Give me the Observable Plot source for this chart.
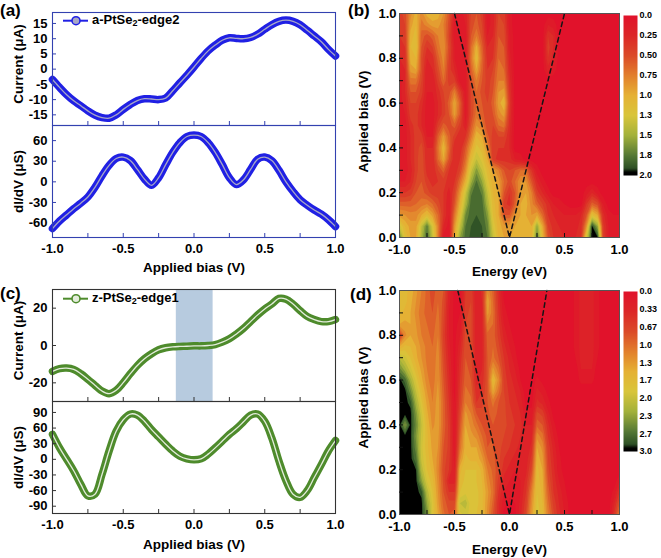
<!DOCTYPE html>
<html><head><meta charset="utf-8">
<script src="https://cdn.jsdelivr.net/npm/d3@7"></script>
<script src="https://cdn.jsdelivr.net/npm/@observablehq/plot@0.6"></script>
<style>
body{margin:0;background:#fff;}
#fig{position:relative;width:661px;height:558px;overflow:hidden;background:#fff;}
</style></head><body><div id="fig"></div>
<script>
// ---------- data ----------
const biasV = [-1,-0.95,-0.9,-0.85,-0.8,-0.75,-0.7,-0.65,-0.6,-0.55,-0.5,-0.45,-0.4,-0.35,-0.3,-0.25,-0.2,-0.15,-0.1,-0.05,0,0.05,0.1,0.15,0.2,0.25,0.3,0.35,0.4,0.45,0.5,0.55,0.6,0.65,0.7,0.75,0.8,0.85,0.9,0.95,1];
const aCurrent = [-3.4,-6.0,-8.4,-10.4,-12.0,-13.7,-15.1,-15.9,-16.1,-15.0,-13.2,-11.6,-10.3,-9.7,-9.8,-10.0,-9.5,-7.1,-4.5,-2.0,0.7,3.5,6.0,7.9,9.5,10.3,10.1,10.0,10.4,11.5,13.1,14.6,15.7,16.1,15.7,14.6,12.8,10.9,9.0,6.5,4.3];
const aDidv = [-68,-57,-48,-39,-31,-22,-8,9,24,34,36,31,18,4,-5,6,25,43,57,66,68,66,57,43,25,6,-4,3,18,33,36,31,17,0,-14,-26,-34,-41,-47,-55,-65];
const cCurrent = [-13.9,-12.4,-12.1,-12.8,-15.1,-18.1,-21.3,-24.4,-25.8,-24.0,-19.9,-15.1,-10.7,-7.1,-4.4,-2.3,-1.2,-0.7,-0.5,-0.4,-0.2,-0.2,0,0.5,1.8,3.6,6.2,9.2,12.8,16.4,19.6,22.2,25.2,24.8,22.2,18.7,15.6,13.9,12.8,12.8,13.9];
const cDidv = [48,22,0,-22,-48,-70,-67,-29,16,54,76,87,85,73,57,43,29,16,6,1,-1,1,10,22,35,48,59,72,85,87,73,41,-3,-41,-67,-73,-60,-35,-10,16,36];
const shadeBias = [-0.125, 0.135];
const seriesA = ["a-PtSe", "2", "-edge2"];
const seriesC = ["z-PtSe", "2", "-edge1"];

const energyGrid = [-1,-0.95,-0.9,-0.85,-0.8,-0.75,-0.7,-0.65,-0.6,-0.55,-0.5,-0.45,-0.4,-0.35,-0.3,-0.25,-0.2,-0.15,-0.1,-0.05,0,0.05,0.1,0.15,0.2,0.25,0.3,0.35,0.4,0.45,0.5,0.55,0.6,0.65,0.7,0.75,0.8,0.85,0.9,0.95,1];
const biasGrid = [1,0.95,0.9,0.85,0.8,0.75,0.7,0.65,0.6,0.55,0.5,0.45,0.4,0.35,0.3,0.25,0.2,0.15,0.1,0.05,0];

// map (b): rows from bias 1.0 (top) to 0.0 (bottom), columns energy -1 .. 1
const mapB = [
[0.45,0.55,0.85,1.05,0.85,1.05,1.1,1.05,0.9,0.6, 0.25,0.15,0.25,0.5,0.6,0.45,0.15,0.25,0.5,0.45, 0.15,0.05,0.05,0.05,0.05,0.05,0.05,0.05,0.05,0.05, 0.05,0.05,0.05,0.05,0.05,0.05,0.05,0.05,0.05,0.05, 0.05],
[0.4,0.5,0.95,1.1,0.75,0.85,0.95,0.95,0.8,0.55, 0.15,0.1,0.2,0.55,0.65,0.5,0.15,0.25,0.55,0.5, 0.15,0.05,0.05,0.05,0.05,0.05,0.05,0.2,0.15,0.05, 0.05,0.05,0.05,0.05,0.05,0.05,0.05,0.05,0.05,0.05, 0.05],
[0.4,0.45,1.05,1.15,0.65,0.55,0.65,0.8,0.85,0.5, 0.15,0.1,0.15,0.6,0.8,0.55,0.2,0.3,0.6,0.55, 0.2,0.05,0.05,0.05,0.05,0.05,0.05,0.4,0.3,0.05, 0.05,0.05,0.05,0.05,0.05,0.05,0.05,0.05,0.05,0.05, 0.05],
[0.35,0.4,1.1,1.2,0.6,0.4,0.5,0.75,0.9,0.55, 0.2,0.1,0.15,0.7,1.05,0.65,0.3,0.35,0.65,0.6, 0.2,0.05,0.05,0.05,0.05,0.05,0.05,0.45,0.3,0.05, 0.05,0.05,0.05,0.05,0.05,0.05,0.05,0.05,0.05,0.05, 0.05],
[0.3,0.35,1.05,1.1,0.55,0.3,0.35,0.65,0.85,0.5, 0.2,0.1,0.15,0.75,1.15,0.7,0.35,0.4,0.7,0.65, 0.25,0.05,0.05,0.05,0.05,0.05,0.05,0.4,0.25,0.05, 0.05,0.05,0.05,0.05,0.05,0.05,0.05,0.05,0.05,0.05, 0.05],
[0.2,0.3,0.95,1.0,0.55,0.2,0.3,0.55,0.8,0.45, 0.3,0.1,0.15,0.65,1.0,0.65,0.4,0.5,0.75,0.7, 0.3,0.05,0.05,0.05,0.05,0.05,0.05,0.25,0.15,0.05, 0.05,0.05,0.05,0.05,0.05,0.05,0.05,0.05,0.05,0.05, 0.05],
[0.15,0.3,0.75,0.75,0.5,0.2,0.2,0.45,0.7,0.45, 0.45,0.15,0.15,0.55,0.8,0.6,0.45,0.55,0.8,0.8, 0.35,0.05,0.05,0.05,0.05,0.05,0.05,0.05,0.05,0.05, 0.05,0.05,0.05,0.05,0.05,0.05,0.05,0.05,0.05,0.05, 0.05],
[0.15,0.3,0.6,0.6,0.45,0.2,0.2,0.35,0.5,0.55, 0.8,0.45,0.15,0.5,0.7,0.55,0.45,0.6,0.9,0.95, 0.4,0.05,0.05,0.05,0.05,0.05,0.05,0.05,0.05,0.05, 0.05,0.05,0.05,0.05,0.05,0.05,0.05,0.05,0.05,0.05, 0.05],
[0.15,0.25,0.5,0.5,0.35,0.15,0.15,0.3,0.45,0.65, 1.0,0.65,0.15,0.5,0.7,0.6,0.5,0.65,0.95,1.1, 0.45,0.05,0.05,0.05,0.05,0.05,0.05,0.05,0.05,0.05, 0.05,0.05,0.05,0.05,0.05,0.05,0.05,0.05,0.05,0.05, 0.05],
[0.15,0.2,0.45,0.45,0.3,0.15,0.15,0.3,0.45,0.6, 0.95,0.6,0.15,0.5,0.75,0.65,0.5,0.6,0.85,0.95, 0.4,0.05,0.05,0.05,0.05,0.05,0.05,0.05,0.05,0.05, 0.05,0.05,0.05,0.05,0.05,0.05,0.05,0.05,0.05,0.05, 0.05],
[0.15,0.15,0.35,0.45,0.3,0.15,0.15,0.45,0.65,0.55, 0.65,0.45,0.2,0.6,0.9,0.8,0.5,0.5,0.7,0.75, 0.35,0.05,0.05,0.05,0.05,0.05,0.05,0.05,0.05,0.05, 0.05,0.05,0.05,0.05,0.05,0.05,0.05,0.05,0.05,0.05, 0.05],
[0.15,0.15,0.3,0.45,0.45,0.2,0.2,0.65,0.95,0.65, 0.45,0.3,0.4,0.75,1.1,1.0,0.65,0.45,0.5,0.5, 0.3,0.05,0.05,0.05,0.05,0.05,0.05,0.05,0.05,0.05, 0.05,0.05,0.05,0.05,0.05,0.05,0.05,0.05,0.05,0.05, 0.05],
[0.15,0.15,0.3,0.45,0.55,0.3,0.3,0.75,1.1,0.7, 0.3,0.3,0.6,0.95,1.25,1.15,0.85,0.4,0.4,0.4, 0.3,0.05,0.05,0.05,0.05,0.05,0.05,0.05,0.05,0.05, 0.05,0.05,0.05,0.05,0.05,0.05,0.05,0.05,0.05,0.05, 0.05],
[0.15,0.15,0.3,0.45,0.6,0.3,0.3,0.7,1.0,0.6, 0.3,0.4,0.7,1.15,1.4,1.25,1.0,0.45,0.35,0.35, 0.35,0.2,0.15,0.05,0.05,0.05,0.05,0.05,0.05,0.05, 0.05,0.05,0.05,0.05,0.05,0.05,0.05,0.05,0.05,0.05, 0.05],
[0.15,0.15,0.25,0.45,0.6,0.35,0.3,0.5,0.65,0.4, 0.3,0.5,0.85,1.35,1.65,1.4,1.15,0.95,0.8,0.6, 0.5,0.6,0.7,0.7,0.4,0.15,0.05,0.05,0.05,0.05, 0.05,0.05,0.05,0.05,0.05,0.05,0.05,0.05,0.05,0.05, 0.05],
[0.2,0.2,0.3,0.5,0.6,0.45,0.35,0.4,0.45,0.35, 0.4,0.7,1.05,1.55,1.82,1.6,1.25,1.05,0.95,0.7, 0.55,0.7,0.9,0.9,0.6,0.3,0.15,0.05,0.05,0.05, 0.05,0.05,0.05,0.05,0.05,0.05,0.05,0.05,0.05,0.05, 0.05],
[0.4,0.4,0.45,0.6,0.65,0.55,0.45,0.45,0.4,0.25, 0.5,0.9,1.35,1.78,1.87,1.78,1.4,1.1,1.0,0.6, 0.4,0.6,0.95,1.0,0.8,0.45,0.3,0.15,0.05,0.05, 0.05,0.05,0.05,0.05,0.15,0.3,0.15,0.05,0.05,0.05, 0.05],
[0.65,0.65,0.65,0.7,0.75,0.8,0.7,0.55,0.4,0.2, 0.6,1.05,1.5,1.85,1.9,1.85,1.5,1.15,1.0,0.45, 0.35,0.65,1.0,1.05,0.85,0.65,0.5,0.35,0.2,0.15, 0.1,0.05,0.05,0.05,0.4,0.65,0.55,0.2,0.05,0.05, 0.05],
[0.95,0.9,0.85,0.85,1.0,1.15,0.95,0.7,0.4,0.2, 0.75,1.2,1.7,1.88,1.9,1.88,1.65,1.2,1.0,0.6, 0.6,0.9,1.0,1.0,0.9,1.0,0.7,0.4,0.3,0.25, 0.2,0.2,0.2,0.3,0.6,1.2,1.0,0.35,0.15,0.1, 0.1],
[1.35,1.1,0.95,0.95,1.4,1.78,1.3,0.8,0.3,0.15, 0.9,1.4,1.8,1.9,1.9,1.9,1.75,1.3,1.05,0.95, 0.95,1.0,1.1,1.0,1.0,1.6,1.0,0.5,0.35,0.3, 0.25,0.25,0.25,0.35,0.9,1.97,1.6,0.45,0.2,0.15, 0.15],
[1.8,1.2,1.0,1.0,1.5,1.86,1.4,0.8,0.15,0.1, 1.0,1.6,1.85,1.92,1.92,1.92,1.8,1.4,1.1,1.0, 1.0,1.05,1.1,1.0,1.05,1.82,1.1,0.6,0.4,0.35, 0.3,0.3,0.3,0.4,1.3,2.0,1.98,0.5,0.2,0.15, 0.15]
];

// map (d)
const mapD = [
[1.8,1.7,1.6,1.4,1.2,1.0,0.8,1.0,0.9,0.4, 0.1,0.1,0.6,0.7,0.3,0.5,1.3,1.0,0.5,0.1, 0.05,0.05,0.05,0.05,0.05,0.05,0.05,0.05,0.05,0.05, 0.05,0.05,0.2,0.35,0.35,0.35,0.2,0.05,0.05,0.05, 0.05],
[1.8,1.7,1.55,1.35,1.15,1.0,0.85,1.05,0.85,0.35, 0.1,0.1,0.65,0.75,0.3,0.45,1.5,1.05,0.55,0.15, 0.05,0.05,0.05,0.05,0.05,0.05,0.05,0.05,0.05,0.05, 0.05,0.05,0.2,0.35,0.35,0.35,0.2,0.05,0.05,0.05, 0.05],
[1.7,1.6,1.5,1.3,1.1,1.0,0.9,1.1,0.8,0.3, 0.1,0.15,0.7,0.8,0.3,0.4,1.4,1.1,0.6,0.2, 0.1,0.05,0.05,0.05,0.05,0.05,0.05,0.05,0.05,0.05, 0.05,0.05,0.2,0.35,0.35,0.35,0.2,0.05,0.05,0.05, 0.05],
[1.5,1.45,1.5,1.35,1.15,1.05,0.95,1.15,0.75,0.3, 0.1,0.2,0.75,0.8,0.3,0.4,1.2,1.05,0.65,0.3, 0.15,0.05,0.05,0.05,0.05,0.05,0.05,0.05,0.05,0.05, 0.05,0.05,0.2,0.35,0.35,0.35,0.2,0.05,0.05,0.05, 0.05],
[0.6,1.3,1.5,1.4,1.2,1.1,1.0,1.2,0.7,0.3, 0.1,0.3,0.8,0.8,0.3,0.4,1.0,1.0,0.7,0.4, 0.2,0.1,0.05,0.05,0.05,0.05,0.05,0.05,0.05,0.05, 0.05,0.05,0.2,0.35,0.35,0.35,0.2,0.05,0.05,0.05, 0.05],
[1.5,1.7,1.65,1.5,1.3,1.15,1.05,1.25,0.75,0.35, 0.1,0.4,0.85,0.8,0.3,0.4,0.95,1.05,0.8,0.5, 0.3,0.15,0.05,0.05,0.05,0.05,0.05,0.05,0.05,0.05, 0.05,0.05,0.2,0.35,0.35,0.35,0.2,0.05,0.05,0.05, 0.05],
[2.2,2.0,1.8,1.55,1.35,1.15,1.05,1.3,0.8,0.4, 0.1,0.5,0.9,0.8,0.3,0.4,0.9,1.1,0.9,0.6, 0.4,0.2,0.05,0.05,0.05,0.05,0.05,0.05,0.05,0.05, 0.05,0.05,0.15,0.35,0.35,0.35,0.15,0.05,0.05,0.05, 0.05],
[2.6,2.3,2.0,1.7,1.45,1.2,1.1,1.3,0.85,0.45, 0.1,0.55,0.95,0.85,0.35,0.45,0.9,1.4,1.1,0.65, 0.45,0.3,0.1,0.05,0.05,0.05,0.05,0.05,0.05,0.05, 0.05,0.05,0.05,0.3,0.3,0.3,0.05,0.05,0.05,0.05, 0.05],
[3.0,2.8,2.3,1.9,1.55,1.25,1.1,1.35,0.9,0.5, 0.1,0.6,1.0,0.9,0.4,0.5,0.9,1.7,1.3,0.7, 0.5,0.4,0.15,0.05,0.05,0.2,0.1,0.05,0.05,0.05, 0.05,0.05,0.05,0.2,0.2,0.2,0.05,0.05,0.05,0.05, 0.05],
[3.0,3.0,2.6,2.1,1.7,1.35,1.15,1.4,0.95,0.55, 0.1,0.65,1.1,1.0,0.5,0.6,0.9,1.5,1.1,0.75, 0.55,0.45,0.3,0.05,0.05,0.35,0.25,0.1,0.05,0.05, 0.05,0.05,0.05,0.05,0.05,0.05,0.05,0.05,0.05,0.05, 0.05],
[3.0,3.0,2.9,2.3,1.85,1.45,1.2,1.45,1.0,0.6, 0.15,0.7,1.2,1.1,0.6,0.7,0.9,1.1,0.9,0.8, 0.6,0.5,0.4,0.1,0.1,0.5,0.4,0.2,0.05,0.05, 0.05,0.05,0.05,0.05,0.05,0.05,0.05,0.05,0.05,0.05, 0.05],
[3.0,3.0,3.0,2.5,2.0,1.55,1.25,1.45,1.0,0.65, 0.15,0.8,1.4,1.2,0.9,0.8,0.85,1.0,0.85,0.8, 0.65,0.55,0.45,0.2,0.2,0.8,0.7,0.35,0.1,0.05, 0.05,0.05,0.05,0.05,0.05,0.05,0.05,0.05,0.05,0.05, 0.05],
[3.0,2.5,3.0,2.6,2.1,1.65,1.3,1.45,1.0,0.7, 0.15,0.9,1.5,1.3,1.1,0.9,0.8,0.9,0.8,0.8, 0.7,0.6,0.5,0.3,0.3,1.0,0.9,0.5,0.2,0.05, 0.05,0.05,0.05,0.05,0.05,0.05,0.05,0.05,0.05,0.05, 0.05],
[3.0,3.0,3.0,2.5,2.05,1.7,1.4,1.4,0.95,0.7, 0.15,1.0,1.6,1.4,1.3,1.05,0.85,0.9,0.8,0.75, 0.65,0.55,0.45,0.3,0.4,1.3,1.1,0.6,0.3,0.1, 0.05,0.05,0.05,0.05,0.05,0.05,0.05,0.05,0.05,0.05, 0.05],
[3.0,3.0,3.0,2.6,2.0,1.7,1.45,1.35,0.9,0.7, 0.2,1.1,1.6,1.5,1.5,1.2,0.9,0.9,0.8,0.7, 0.6,0.5,0.4,0.3,0.5,1.5,1.3,0.7,0.4,0.15, 0.05,0.05,0.05,0.05,0.05,0.05,0.05,0.05,0.05,0.05, 0.05],
[3.0,3.0,3.0,2.75,2.05,1.75,1.5,1.3,0.85,0.65, 0.25,1.3,1.7,1.6,1.6,1.4,1.05,0.95,0.8,0.6, 0.5,0.4,0.35,0.35,0.65,1.6,1.4,0.75,0.45,0.2, 0.05,0.05,0.05,0.05,0.05,0.05,0.05,0.05,0.05,0.05, 0.05],
[3.0,3.0,3.0,2.95,2.2,1.8,1.6,1.25,0.8,0.6, 0.3,1.6,1.8,1.8,1.8,1.6,1.2,1.0,0.8,0.5, 0.4,0.3,0.3,0.4,0.8,1.7,1.5,0.8,0.5,0.2, 0.1,0.05,0.05,0.05,0.05,0.05,0.05,0.05,0.05,0.05, 0.05],
[3.0,3.0,3.0,3.0,2.45,1.95,1.7,1.3,0.85,0.4, 0.4,1.7,1.85,1.8,1.8,1.65,1.3,1.05,0.7,0.4, 0.3,0.25,0.3,0.5,1.0,1.75,1.55,0.9,0.55,0.3, 0.15,0.05,0.05,0.05,0.05,0.05,0.05,0.05,0.05,0.05, 0.3],
[3.0,3.0,3.0,3.0,2.9,2.2,1.8,1.35,0.9,0.6, 0.6,1.8,1.9,1.85,1.85,1.7,1.4,1.1,0.6,0.3, 0.2,0.2,0.3,0.6,1.2,1.8,1.6,1.0,0.6,0.4, 0.2,0.05,0.05,0.05,0.05,0.05,0.05,0.05,0.05,0.2, 0.6],
[3.0,3.0,3.0,3.0,3.0,2.4,1.9,1.4,1.0,0.8, 0.8,2.1,2.2,1.85,1.85,1.7,1.35,1.0,0.5,0.2, 0.1,0.15,0.35,0.7,1.3,1.85,1.65,1.1,0.7,0.45, 0.25,0.1,0.05,0.05,0.05,0.05,0.05,0.05,0.05,0.4, 0.9],
[3.0,3.0,3.0,3.0,3.0,2.6,1.9,1.5,1.1,0.9, 1.0,1.9,2.0,1.9,1.8,1.7,1.3,0.9,0.5,0.1, 0.05,0.1,0.4,0.8,1.4,1.9,1.7,1.2,0.8,0.5, 0.3,0.1,0.05,0.05,0.05,0.05,0.05,0.05,0.05,0.6, 1.2]
];

const dashB_E = [-0.5, 0, 0.5], dashB_V = [1, 0, 1];
const dashD_E = [-0.47, 0, 0.34], dashD_V = [1, 0, 1];

// ticks and labels
const xTicks = [-1, -0.5, 0, 0.5, 1];
const xTickLabels = ["-1.0", "-0.5", "0.0", "0.5", "1.0"];
const xMinor = [-0.75, -0.5, -0.25, 0, 0.25, 0.5, 0.75];
const aTopTicks = [-15, -10, -5, 0, 5, 10, 15];
const aTopLabels = ["-15", "-10", "-5", "0", "5", "10", "15"];
const aBotTicks = [-60, -30, 0, 30, 60];
const aBotLabels = ["-60", "-30", "0", "30", "60"];
const cTopTicks = [-20, 0, 20];
const cTopLabels = ["-20", "0", "20"];
const cBotTicks = [-90, -60, -30, 0, 30, 60, 90];
const cBotLabels = ["-90", "-60", "-30", "0", "30", "60", "90"];
const mapYTicks = [0, 0.2, 0.4, 0.6, 0.8, 1];
const mapYLabels = ["0.0", "0.2", "0.4", "0.6", "0.8", "1.0"];
const mapYMinor = [0.1, 0.2, 0.3, 0.4, 0.5, 0.6, 0.7, 0.8, 0.9];
const cbBTicks = [0, 0.25, 0.5, 0.75, 1, 1.25, 1.5, 1.75, 2];
const cbBLabels = ["0.0", "0.25", "0.50", "0.75", "1.0", "1.3", "1.5", "1.8", "2.0"];
const cbDTicks = [0, 1/3, 2/3, 1, 4/3, 5/3, 2, 7/3, 8/3, 3];
const cbDLabels = ["0.0", "0.33", "0.67", "1.0", "1.3", "1.7", "2.0", "2.3", "2.7", "3.0"];
const levelsB = [0,0.1,0.2,0.3,0.4,0.5,0.6,0.7,0.8,0.9,1.0,1.1,1.2,1.3,1.4,1.5,1.6,1.7,1.8,1.9,1.96];
const levelsD = [0,0.15,0.3,0.45,0.6,0.75,0.9,1.05,1.2,1.35,1.5,1.65,1.8,1.95,2.1,2.25,2.4,2.55,2.7,2.85,2.95];

// ---------- styling ----------
const FONT = '"Liberation Sans", Arial, Helvetica, sans-serif';
const STYLE = {fontFamily: FONT, fontSize: "13px", fontWeight: "bold", background: "transparent", color: "#000", overflow: "visible"};
const cStops = [0, 0.125, 0.25, 0.375, 0.5, 0.625, 0.75, 0.875, 0.955, 0.98, 1];
const cColors = ["#e1122b","#dc2627","#db4a28","#e27f2c","#e5b134","#d9c63a","#a3b13a","#557935","#2e5025","#000000","#000000"];
const fig = document.getElementById("fig");
function place(el, left, top) {
  el.style.position = "absolute"; el.style.left = left + "px"; el.style.top = top + "px";
  fig.appendChild(el);
}
const fmt = (ticks, labels) => d => labels[ticks.indexOf(d)];

function curvePanel(o) {
  const W = 340, ml = 52, mr = 5;
  const fw = W - ml - mr, fh = o.height - o.mt - o.mb;
  const data = biasV.map((x, i) => ({x, y: o.values[i]}));
  const marks = [];
  if (o.shade) marks.push(Plot.rect([o.shade], {x1: d => d[0], x2: d => d[1], fill: "#b7cbdf"}));
  marks.push(
    Plot.line(data, {x: "x", y: "y", stroke: o.color, strokeWidth: 7.5, curve: "catmull-rom"}),
    Plot.line(data, {x: "x", y: "y", stroke: o.core, strokeWidth: 1.3, curve: "catmull-rom"}),
    Plot.frame({stroke: o.frame, strokeWidth: 1.1}),
    Plot.tickX(xMinor, {x: d => d, stroke: o.frame, insetTop: fh - 4}),
    Plot.tickY(o.ticks, {y: d => d, stroke: o.frame, insetRight: fw - 4}),
    Plot.axisY({ticks: o.ticks, tickFormat: fmt(o.ticks, o.labels), tickSize: 0, tickPadding: 5, label: null, fontSize: 13}),
    Plot.text([o.title], {frameAnchor: "left", dx: -34, dy: o.titleDy, rotate: -90, textAnchor: "middle", lineAnchor: "middle", fontSize: 13.5, text: d => d})
  );
  if (o.xaxis) {
    marks.push(
      Plot.axisX({ticks: xTicks, tickFormat: fmt(xTicks, xTickLabels), tickSize: 0, tickPadding: 6, label: null, fontSize: 13}),
      Plot.text([o.xtitle], {frameAnchor: "bottom", dy: o.xtitleDy, textAnchor: "middle", lineAnchor: "middle", fontSize: 13.5, text: d => d})
    );
  }
  return Plot.plot({
    width: W, height: o.height, marginLeft: ml, marginRight: mr, marginTop: o.mt, marginBottom: o.mb,
    x: {domain: [-1, 1], axis: o.xaxis ? undefined : null},
    y: {domain: o.domain},
    style: STYLE, marks
  });
}

function mapPanel(o) {
  const W = 331, H = 275, ml = 69, mr = 42, mt = 13, mb = 38;
  const fw = W - ml - mr, fh = H - mt - mb;
  const hx = (energyGrid[1] - energyGrid[0]) / 2, hy = (biasGrid[0] - biasGrid[1]) / 2;
  const dash = o.dashE.map((e, i) => ({e, v: o.dashV[i]}));
  return Plot.plot({
    width: W, height: H, marginLeft: ml, marginRight: mr, marginTop: mt, marginBottom: mb,
    x: {domain: [-1, 1]}, y: {domain: [0, 1]},
    color: {type: "linear", domain: cStops.map(t => t * o.max), range: cColors},
    style: STYLE,
    marks: [
      Plot.contour(o.grid.flat(), {
        width: energyGrid.length, height: biasGrid.length,
        x1: energyGrid[0] - hx, x2: energyGrid[energyGrid.length - 1] + hx,
        y1: biasGrid[0] + hy, y2: biasGrid[biasGrid.length - 1] - hy,
        fill: Plot.identity, thresholds: o.levels, clip: true
      }),
      Plot.line(dash, {x: "e", y: "v", stroke: "#151515", strokeWidth: 1.5, strokeDasharray: "4.5,3.5"}),
      Plot.frame({stroke: "#555", strokeWidth: 1}),
      Plot.tickX(xMinor, {x: d => d, stroke: "#111", insetTop: fh - 4}),
      Plot.tickY(mapYMinor, {y: d => d, stroke: "#111", insetRight: fw - 4}),
      Plot.axisY({ticks: mapYTicks, tickFormat: fmt(mapYTicks, mapYLabels), tickSize: 0, tickPadding: 3, label: null, fontSize: 13}),
      Plot.axisX({ticks: xTicks, tickFormat: fmt(xTicks, xTickLabels), tickSize: 0, tickPadding: 7, label: null, fontSize: 13}),
      Plot.text(["Applied bias (V)"], {frameAnchor: "left", dx: -36, dy: o.ytitleDy, rotate: -90, textAnchor: "middle", lineAnchor: "middle", fontSize: 13.5, text: d => d}),
      Plot.text(["Energy (eV)"], {frameAnchor: "bottom", dy: o.xtitleDy, textAnchor: "middle", lineAnchor: "middle", fontSize: 13.5, text: d => d})
    ]
  });
}

function colorbar(o) {
  return Plot.plot({
    width: 40, height: 166, marginLeft: 0, marginRight: 26, marginTop: 3, marginBottom: 3,
    x: {domain: [0, 1], axis: null}, y: {domain: [0, o.max], reverse: true},
    color: {type: "linear", domain: cStops.map(t => t * o.max), range: cColors},
    style: STYLE,
    marks: [
      Plot.raster({fill: (x, y) => y, x1: 0, x2: 1, y1: 0, y2: o.max, width: 1, height: 160}),
      Plot.axisY({anchor: "right", ticks: o.ticks, tickFormat: fmt(o.ticks, o.labels), tickSize: 0, tickPadding: 2, label: null, fontSize: 9})
    ]
  });
}

// ---------- panels ----------
place(curvePanel({values: aCurrent, domain: [-18.5, 18.6], ticks: aTopTicks, labels: aTopLabels, height: 125, mt: 12, mb: 0,
  color: "#2020e4", core: "#a7a7c6", frame: "#3341b0", title: "Current (μA)", titleDy: -5, xaxis: false}), 0, 0);
place(curvePanel({values: aDidv, domain: [-81, 82], ticks: aBotTicks, labels: aBotLabels, height: 150, mt: 0, mb: 38,
  color: "#2020e4", core: "#a7a7c6", frame: "#3341b0", title: "dI/dV (μS)", titleDy: 0, xaxis: true, xtitle: "Applied bias (V)", xtitleDy: 30}), 0, 125);
place(curvePanel({values: cCurrent, domain: [-30, 30], ticks: cTopTicks, labels: cTopLabels, height: 124, mt: 12, mb: 0, shade: shadeBias,
  color: "#4e8b2c", core: "#e4ecdc", frame: "#333", title: "Current (μA)", titleDy: -5, xaxis: false}), 0, 277);
place(curvePanel({values: cDidv, domain: [-104, 111], ticks: cBotTicks, labels: cBotLabels, height: 150, mt: 0, mb: 38,
  color: "#4e8b2c", core: "#e4ecdc", frame: "#333", title: "dI/dV (μS)", titleDy: 0, xaxis: true, xtitle: "Applied bias (V)", xtitleDy: 31}), 0, 401);

place(mapPanel({grid: mapB, max: 2, levels: levelsB, dashE: dashB_E, dashV: dashB_V, ytitleDy: -4, xtitleDy: 34}), 330, 0);
place(mapPanel({grid: mapD, max: 3, levels: levelsD, dashE: dashD_E, dashV: dashD_V, ytitleDy: -5, xtitleDy: 35}), 330, 277);
place(colorbar({max: 2, ticks: cbBTicks, labels: cbBLabels}), 623, 12);
place(colorbar({max: 3, ticks: cbDTicks, labels: cbDLabels}), 623, 288);

// ---------- overlay: panel letters and legends ----------
const NS = "http://www.w3.org/2000/svg";
const ov = document.createElementNS(NS, "svg");
ov.setAttribute("width", 661); ov.setAttribute("height", 558);
ov.style.pointerEvents = "none";
ov.style.fontFamily = FONT; ov.style.fontWeight = "bold";
function legend(y, parts, color, fill) {
  return `<line x1="63" x2="88" y1="${y}" y2="${y}" stroke="${color}" stroke-width="2"/>
  <circle cx="76" cy="${y}" r="4" fill="${fill}" stroke="${color}" stroke-width="1.6"/>
  <text x="92" y="${y}" dominant-baseline="middle" font-size="13">${parts[0]}<tspan font-size="9" dy="3">${parts[1]}</tspan><tspan dy="-3">${parts[2]}</tspan></text>`;
}
ov.innerHTML = `
  <text x="0" y="16" font-size="17">(a)</text>
  <text x="348" y="16" font-size="17">(b)</text>
  <text x="0" y="299" font-size="17">(c)</text>
  <text x="350" y="300" font-size="17">(d)</text>
  ${legend(20.7, seriesA, "#2020e4", "#a7a7c6")}
  ${legend(298.7, seriesC, "#4e8b2c", "#e4ecdc")}
`;
place(ov, 0, 0);
</script></body></html>
